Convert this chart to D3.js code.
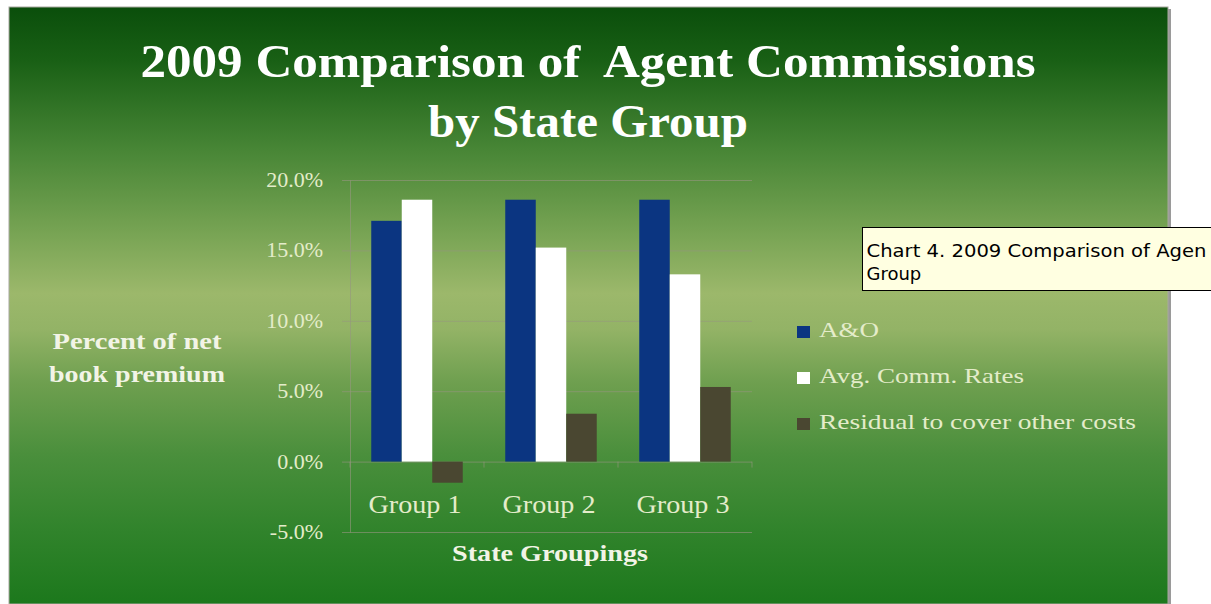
<!DOCTYPE html>
<html>
<head>
<meta charset="utf-8">
<script src="https://cdn.jsdelivr.net/npm/d3@7"></script>
<style>
  html, body { margin: 0; padding: 0; background: #ffffff; }
  svg { display: block; }
</style>
</head>
<body>
<svg id="chart" width="1211" height="604"></svg>
<script>
// Chart data
const groups = ["Group 1", "Group 2", "Group 3"];
const seriesNames = ["A&O", "Avg. Comm. Rates", "Residual to cover other costs"];
const aoValues = [17.1, 18.6, 18.6];
const commValues = [18.6, 15.2, 13.3];
const residualValues = [-1.5, 3.4, 5.3];
const yTicks = [-5, 0, 5, 10, 15, 20];
const titleLines = ["2009 Comparison of  Agent Commissions", "by State Group"];
const yTitleLines = ["Percent of net", "book premium"];
const xTitle = "State Groupings";
const tooltipLines = ["Chart 4. 2009 Comparison of Agen", "Group"];

const seriesValues = [aoValues, commValues, residualValues];
const seriesColors = ["#0b3581", "#ffffff", "#4a4731"];

const svg = d3.select("#chart");
const defs = svg.append("defs");

// Vertical green gradient for the chart panel
const grad = defs.append("linearGradient")
  .attr("id", "panelGrad").attr("x1", 0).attr("y1", 0).attr("x2", 0).attr("y2", 1);
[
  [0.00, "#0a4e0b"],
  [0.09, "#196015"],
  [0.24, "#488636"],
  [0.38, "#78a454"],
  [0.48, "#9cb86b"],
  [0.54, "#93b366"],
  [0.63, "#6e9f4f"],
  [0.75, "#4a8f3c"],
  [0.88, "#30832b"],
  [1.00, "#1c781c"]
].forEach(([o, c]) => grad.append("stop").attr("offset", o).attr("stop-color", c));

// Panel with a soft shadow on the right
const panel = { x: 9, y: 7, w: 1159, h: 597 };
svg.append("rect")
  .attr("x", panel.x + panel.w).attr("y", panel.y + 2)
  .attr("width", 3).attr("height", panel.h)
  .attr("fill", "#9a9a9a");
svg.append("rect")
  .attr("x", panel.x).attr("y", panel.y)
  .attr("width", panel.w).attr("height", panel.h)
  .attr("fill", "url(#panelGrad)")
  .attr("stroke", "#a8a8a0").attr("stroke-width", 1);

// Scales
const plot = { left: 350, right: 752, top: 180, bottom: 532 };
const y = d3.scaleLinear().domain([-5, 20]).range([plot.bottom, plot.top]);
const x0 = d3.scaleBand().domain(groups).range([plot.left, plot.right]).padding(0);
const x1 = d3.scaleBand().domain(d3.range(seriesNames.length))
  .range([0, x0.bandwidth()]).paddingInner(0).paddingOuter(0.697);

const gridColor = "rgba(150,150,128,0.6)";

// Horizontal gridlines with tick marks to the left of the axis
const yAxis = d3.axisLeft(y)
  .tickValues(yTicks)
  .tickSize(-(plot.right - plot.left))
  .tickSizeOuter(0)
  .tickPadding(0)
  .tickFormat("");
const gy = svg.append("g").attr("transform", `translate(${plot.left},0)`).call(yAxis);
gy.select(".domain").attr("stroke", gridColor);
gy.selectAll(".tick line").attr("stroke", gridColor).attr("x1", -8);

// Tick labels (plain hyphen for negatives)
const pct = d => d.toFixed(1) + "%";
svg.append("g").selectAll("text")
  .data(yTicks)
  .join("text")
  .attr("x", 323)
  .attr("y", d => y(d) + 7)
  .attr("text-anchor", "end")
  .attr("font-family", "Liberation Serif, serif")
  .attr("font-size", 22)
  .attr("fill", "#e4ecca")
  .text(pct);

// Category ticks on the zero line
const catEdges = groups.map(g => x0(g)).concat([plot.right]);
svg.append("g").selectAll("line")
  .data(catEdges)
  .join("line")
  .attr("x1", d => d).attr("x2", d => d)
  .attr("y1", y(0)).attr("y2", y(0) + 6)
  .attr("stroke", gridColor);

// Bars
const barGroups = svg.append("g").selectAll("g")
  .data(groups)
  .join("g")
  .attr("transform", g => `translate(${x0(g)},0)`);
barGroups.selectAll("rect")
  .data((g, gi) => seriesValues.map((vals, si) => ({ si, v: vals[gi] })))
  .join("rect")
  .attr("x", d => x1(d.si))
  .attr("width", x1.bandwidth())
  .attr("y", d => y(Math.max(0, d.v)))
  .attr("height", d => Math.abs(y(d.v) - y(0)))
  .attr("fill", d => seriesColors[d.si]);

// Category labels
svg.append("g").selectAll("text")
  .data(groups)
  .join("text")
  .attr("x", g => x0(g) + x0.bandwidth() / 2 - 2)
  .attr("y", 513)
  .attr("text-anchor", "middle")
  .attr("font-family", "Liberation Serif, serif")
  .attr("font-size", 26)
  .attr("fill", "#e4ecca")
  .attr("textLength", 93)
  .attr("lengthAdjust", "spacingAndGlyphs")
  .text(g => g);

// Title (keeps its double space)
const titleWidths = [895, 320];
svg.append("g").selectAll("text")
  .data(titleLines)
  .join("text")
  .attr("x", 588)
  .attr("y", (d, i) => 77 + i * 60)
  .attr("text-anchor", "middle")
  .attr("font-family", "Liberation Serif, serif")
  .attr("font-weight", "bold")
  .attr("font-size", 46)
  .attr("fill", "#ffffff")
  .style("white-space", "pre")
  .attr("textLength", (d, i) => titleWidths[i])
  .attr("lengthAdjust", "spacingAndGlyphs")
  .text(d => d);

// Y axis title
const yTitleWidths = [169, 176];
svg.append("g").selectAll("text")
  .data(yTitleLines)
  .join("text")
  .attr("x", 137)
  .attr("y", (d, i) => 349 + i * 33)
  .attr("text-anchor", "middle")
  .attr("font-family", "Liberation Serif, serif")
  .attr("font-weight", "bold")
  .attr("font-size", 23)
  .attr("fill", "#f2f4e6")
  .attr("textLength", (d, i) => yTitleWidths[i])
  .attr("lengthAdjust", "spacingAndGlyphs")
  .text(d => d);

// X axis title
svg.append("text")
  .attr("x", 550)
  .attr("y", 561)
  .attr("text-anchor", "middle")
  .attr("font-family", "Liberation Serif, serif")
  .attr("font-weight", "bold")
  .attr("font-size", 23)
  .attr("fill", "#f2f4e6")
  .attr("textLength", 196)
  .attr("lengthAdjust", "spacingAndGlyphs")
  .text(xTitle);

// Legend
const legendWidths = [60, 205, 317];
const legend = svg.append("g").selectAll("g")
  .data(seriesNames)
  .join("g")
  .attr("transform", (d, i) => `translate(797,${326 + i * 46})`);
legend.append("rect")
  .attr("width", 13).attr("height", 12)
  .attr("fill", (d, i) => seriesColors[i]);
legend.append("text")
  .attr("x", 22)
  .attr("y", 11)
  .attr("font-family", "Liberation Serif, serif")
  .attr("font-size", 22)
  .attr("fill", "#e4ecca")
  .attr("textLength", (d, i) => legendWidths[i])
  .attr("lengthAdjust", "spacingAndGlyphs")
  .text(d => d);

// Tooltip box running off the right edge
const tip = svg.append("g").attr("transform", "translate(862.5,227.5)");
tip.append("rect")
  .attr("width", 420).attr("height", 63)
  .attr("fill", "#ffffe1")
  .attr("stroke", "#000000").attr("stroke-width", 1);
tip.selectAll("text")
  .data(tooltipLines)
  .join("text")
  .attr("x", 4)
  .attr("y", (d, i) => 29 + i * 23)
  .attr("font-family", "DejaVu Sans, sans-serif")
  .attr("font-size", 18)
  .attr("fill", "#000000")
  .attr("textLength", (d, i) => i === 0 ? 340 : null)
  .attr("lengthAdjust", "spacingAndGlyphs")
  .text(d => d);
</script>
</body>
</html>
